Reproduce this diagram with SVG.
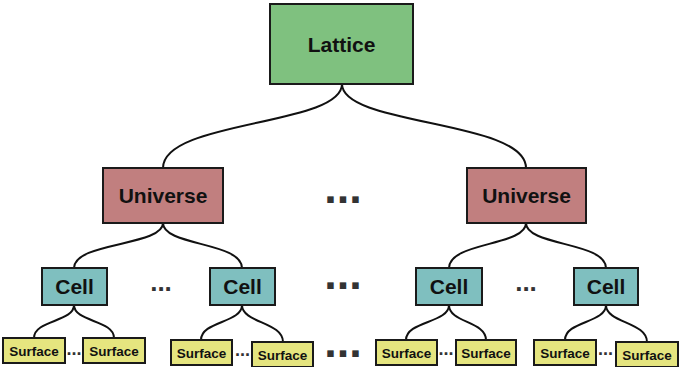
<svg xmlns="http://www.w3.org/2000/svg" width="679" height="367" viewBox="0 0 679 367">
<style>
rect.box{stroke:#1a1a1a;stroke-width:2}
.lat{fill:#7fc17f}
.uni{fill:#c17f7f}
.cell{fill:#7fbfbf}
.surf{fill:#e5e57f}
text{font-family:"Liberation Sans",Arial,sans-serif;font-weight:bold;fill:#111;text-anchor:middle}
.big{font-size:21px}
.sm{font-size:13.5px}
.dots{fill:#333}
#connectors path{fill:none;stroke:#111;stroke-width:2}
</style>
<rect width="679" height="367" fill="#fff"/>
<g id="connectors">
<path d="M342,84 C342,126 163,120 163,168"/>
<path d="M342,84 C342,126 526,120 526,168"/>
<path d="M163,223 C163,246 74,242 74,268"/>
<path d="M163,223 C163,246 242,242 242,268"/>
<path d="M526,223 C526,246 449,242 449,268"/>
<path d="M526,223 C526,246 606,242 606,268"/>
<path d="M74,305 C74,322 34,320 34,338"/>
<path d="M74,305 C74,322 114,320 114,338"/>
<path d="M242,305 C242,323 201,321 201,340"/>
<path d="M242,305 C242,323 283,322 283,342"/>
<path d="M449,305 C449,323 406,321 406,340"/>
<path d="M449,305 C449,323 486,321 486,340"/>
<path d="M606,305 C606,323 565,321 565,340"/>
<path d="M606,305 C606,323 647,322 647,342"/>
</g>
<g id="lattice"><rect class="box lat" x="270" y="4" width="143" height="80"/><text class="big" x="341.5" y="51.5">Lattice</text></g>
<g id="universe1"><rect class="box uni" x="103" y="168" width="120" height="55"/><text class="big" x="163" y="203">Universe</text></g>
<g id="universe2"><rect class="box uni" x="467" y="168" width="119" height="55"/><text class="big" x="526.5" y="203">Universe</text></g>
<g id="cell1"><rect class="box cell" x="42" y="268" width="65" height="37"/><text class="big" x="74.5" y="294">Cell</text></g>
<g id="cell2"><rect class="box cell" x="210" y="268" width="65" height="37"/><text class="big" x="242.5" y="294">Cell</text></g>
<g id="cell3"><rect class="box cell" x="416" y="268" width="66" height="37"/><text class="big" x="449" y="294">Cell</text></g>
<g id="cell4"><rect class="box cell" x="574" y="268" width="64" height="37"/><text class="big" x="606" y="294">Cell</text></g>
<g id="surface1"><rect class="box surf" x="3" y="338" width="62" height="25"/><text class="sm" x="34" y="355.5">Surface</text></g>
<g id="surface2"><rect class="box surf" x="83" y="338" width="62" height="25"/><text class="sm" x="114" y="355.5">Surface</text></g>
<g id="surface3"><rect class="box surf" x="171" y="340" width="61" height="25"/><text class="sm" x="201.5" y="357.5">Surface</text></g>
<g id="surface4"><rect class="box surf" x="252" y="342" width="61" height="25"/><text class="sm" x="282.5" y="359.5">Surface</text></g>
<g id="surface5"><rect class="box surf" x="376" y="340" width="61" height="25"/><text class="sm" x="406.5" y="357.5">Surface</text></g>
<g id="surface6"><rect class="box surf" x="456" y="340" width="60" height="25"/><text class="sm" x="486" y="357.5">Surface</text></g>
<g id="surface7"><rect class="box surf" x="534" y="340" width="62" height="25"/><text class="sm" x="565" y="357.5">Surface</text></g>
<g id="surface8"><rect class="box surf" x="616" y="342" width="62" height="25"/><text class="sm" x="647" y="359.5">Surface</text></g>
<g id="ellipses">
<text class="dots" x="343" y="203" style="font-size:45px">...</text>
<text class="dots" x="343" y="289" style="font-size:45px">...</text>
<text class="dots" x="343" y="357" style="font-size:45px">...</text>
<text class="dots" x="161" y="291" style="font-size:26px">...</text>
<text class="dots" x="526" y="291" style="font-size:26px">...</text>
<text class="dots" x="74" y="355" style="font-size:18px">...</text>
<text class="dots" x="242.5" y="356" style="font-size:18px">...</text>
<text class="dots" x="446" y="355" style="font-size:18px">...</text>
<text class="dots" x="605.5" y="355" style="font-size:18px">...</text>
</g>
</svg>
